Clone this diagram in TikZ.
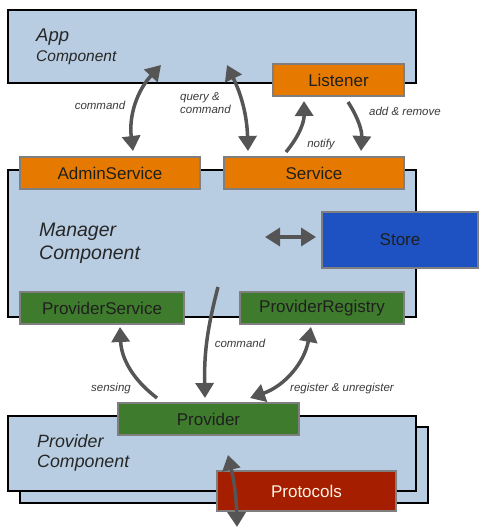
\documentclass[tikz,border=0pt]{standalone}
\usepackage{fontspec}
\setmainfont{Liberation Sans}
\usetikzlibrary{arrows.meta}
\definecolor{compfill}{HTML}{B9CDE2}
\definecolor{orangefill}{HTML}{E67A00}
\definecolor{greenfill}{HTML}{3F7B2C}
\definecolor{storefill}{HTML}{1E52C2}
\definecolor{protofill}{HTML}{A61E00}
\definecolor{arrowgray}{HTML}{555555}
\definecolor{nodeborder}{HTML}{7F7F7F}
\definecolor{lbltext}{HTML}{3A3A3A}
\begin{document}
\begin{tikzpicture}[x=1pt,y=-1pt,
  comp/.style={draw=black, line width=2pt, fill=compfill, inner sep=0pt},
  nbox/.style={draw=nodeborder, line width=1.5pt, inner sep=0pt, text=black!88,
    font=\fontsize{17}{20}\selectfont},
  orangebox/.style={nbox, fill=orangefill},
  greenbox/.style={nbox, fill=greenfill},
  ctitle/.style={align=left, anchor=west, inner sep=0pt, text=black!85},
  lbl/.style={font=\fontsize{11.5}{13}\selectfont\itshape, text=lbltext, inner sep=0pt},
  garrow/.style={draw=arrowgray, line width=3.5pt, -{Triangle[width=18pt,length=15pt]}},
  darrow/.style={draw=arrowgray, line width=3.5pt, {Triangle[width=18pt,length=15pt]}-{Triangle[width=18pt,length=15pt]}}
]
\useasboundingbox (0,0) rectangle (485,530);

% App component
\node[comp, minimum width=408pt, minimum height=73pt] (app) at (212,46.5) {};
\node[ctitle, font=\fontsize{15.5}{20}\selectfont\itshape] (apptitle) at (36,47)
  {{\fontsize{18.5}{20}\selectfont App}\\Component};
\node[orangebox, minimum width=131pt, minimum height=32pt] (listener) at (338.5,80) {Listener};

% Manager component
\node[comp, minimum width=408pt, minimum height=147pt] (manager) at (212,243.5) {};
\node[ctitle, font=\fontsize{19.5}{23}\selectfont\itshape] (mgrtitle) at (39,243.5)
  {Manager\\Component};
\node[orangebox, minimum width=180pt, minimum height=32pt] (admin) at (110,173) {AdminService};
\node[orangebox, minimum width=180pt, minimum height=32pt] (service) at (314,173) {Service};
\node[nbox, fill=storefill, minimum width=156pt, minimum height=56pt] (store) at (400,240) {Store};
\node[greenbox, minimum width=164pt, minimum height=32pt] (provservice) at (102,308) {ProviderService};
\node[greenbox, minimum width=164pt, minimum height=32pt] (provregistry) at (322,308) {ProviderRegistry};

% Provider component
\node[comp, minimum width=408pt, minimum height=76pt] (provback) at (224,465) {};
\node[comp, minimum width=408pt, minimum height=75pt] (provfront) at (212,453.5) {};
\node[ctitle, font=\fontsize{17.8}{20}\selectfont\itshape] (provtitle) at (37,453)
  {Provider\\Component};
\node[greenbox, minimum width=181pt, minimum height=32pt] (provider) at (208.5,419) {Provider};
\node[nbox, fill=protofill, text=white!90!orange, minimum width=179pt, minimum height=40pt] (protocols) at (306.5,491) {Protocols};

% arrow end points
\coordinate (c1a) at (161,65);
\coordinate (c1b) at (133,151);
\coordinate (c2a) at (227,65);
\coordinate (c2b) at (248,151);
\coordinate (c3a) at (286,152);
\coordinate (c3b) at (304,101);
\coordinate (c4a) at (348,102);
\coordinate (c4b) at (361,151);
\coordinate (c5a) at (265,237);
\coordinate (c5b) at (316,237);
\coordinate (c6a) at (218,287);
\coordinate (c6b) at (205,398);
\coordinate (c7a) at (157,398);
\coordinate (c7b) at (120,327);
\coordinate (c8a) at (250,398);
\coordinate (c8b) at (311,327);
\coordinate (c9a) at (228,455);
\coordinate (c9b) at (237,527);

\draw[darrow] (c1a) to[bend right=25] (c1b);
\draw[darrow] (c2a) to[bend left=12] (c2b);
\draw[garrow] (c3a) to[bend right=20] (c3b);
\draw[garrow] (c4a) to[bend left=18] (c4b);
\draw[darrow] (c5a) -- (c5b);
\draw[garrow] (c6a) to[bend right=8] (c6b);
\draw[garrow] (c7a) to[bend left=25] (c7b);
\draw[darrow] (c8a) to[bend right=30] (c8b);
\draw[darrow] (c9a) to[bend left=6] (c9b);

% labels
\node[lbl] (l1) at (100,105) {command};
\node[lbl, align=left, anchor=west] (l2) at (180,103.5) {query \&\\command};
\node[lbl] (l3) at (321,145) {notify};
\node[lbl] (l4) at (405,111) {add \& remove};
\node[lbl] (l5) at (240,343) {command};
\node[lbl] (l6) at (111,389) {sensing};
\node[lbl] (l7) at (342,389) {register \& unregister};
\end{tikzpicture}
\end{document}
